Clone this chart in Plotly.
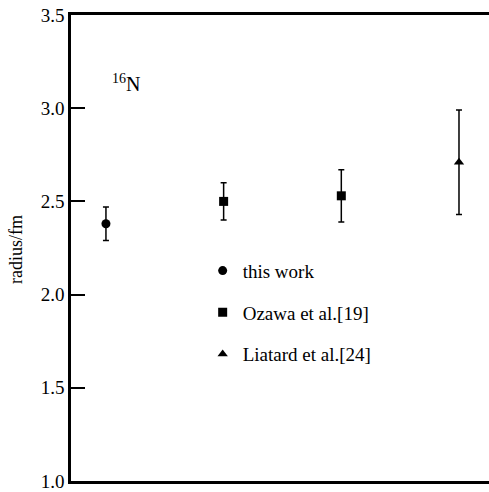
import plotly.graph_objects as go

# data
x_pos = [1, 2, 3, 4]
series_names = ["this work", "Ozawa et al.[19]", "Liatard et al.[24]"]
this_x = [1]
this_r = [2.38]
this_err = [0.09]
ozawa_x = [2, 3]
ozawa_r = [2.50, 2.53]
ozawa_err = [0.10, 0.14]
liatard_x = [4]
liatard_r = [2.71]
liatard_err = [0.28]
y_ticks = [1.0, 1.5, 2.0, 2.5, 3.0, 3.5]

FONT = "Liberation Serif"
fig = go.Figure()

specs = [
    (this_x, this_r, this_err, "circle", series_names[0], "g1"),
    (ozawa_x, ozawa_r, ozawa_err, "square", series_names[1], "g2"),
    (liatard_x, liatard_r, liatard_err, "triangle-up", series_names[2], "g3"),
]
for xs, ys, es, sym, name, grp in specs:
    fig.add_trace(go.Scatter(
        x=xs, y=ys, mode="markers", name=name, legendgroup=grp,
        marker=dict(symbol=sym, color="black", size=9),
        error_y=dict(type="data", array=es, visible=True, color="black",
                     thickness=1.5, width=3),
    ))

fig.update_layout(
    width=489, height=492,
    margin=dict(l=71, r=0, t=15, b=11),
    paper_bgcolor="white", plot_bgcolor="white",
    font=dict(family=FONT, color="black", size=17),
    showlegend=True,
    legend=dict(x=0.315, y=0.492, xanchor="left", yanchor="top",
                bgcolor="rgba(0,0,0,0)", borderwidth=0,
                tracegroupgap=14, font=dict(size=19, family=FONT)),
    xaxis=dict(range=[0.703, 4.255], showline=True, mirror=True,
               linecolor="black", linewidth=2.5, showticklabels=False,
               ticks="", showgrid=False, zeroline=False),
    yaxis=dict(range=[1.0, 3.5], tickvals=y_ticks,
               ticktext=[f"{v:.1f}" for v in y_ticks],
               showline=True, mirror=False, linecolor="black", linewidth=2.5,
               ticks="inside", ticklen=14, tickwidth=2, tickcolor="black",
               showgrid=False, zeroline=False,
               tickfont=dict(size=19, family=FONT)),
    annotations=[
        dict(text="<sup>16</sup>N", x=(126 - 71) / 418, y=(481 - 83) / 466,
             xref="paper", yref="paper", showarrow=False,
             xanchor="center", yanchor="middle",
             font=dict(size=20, family=FONT)),
        dict(text="radius/fm", x=(16 - 71) / 418, y=(481 - 250) / 466,
             xref="paper", yref="paper", showarrow=False, textangle=-90,
             xanchor="center", yanchor="middle",
             font=dict(size=18, family=FONT)),
    ],
)

fig.write_html("out.html")
